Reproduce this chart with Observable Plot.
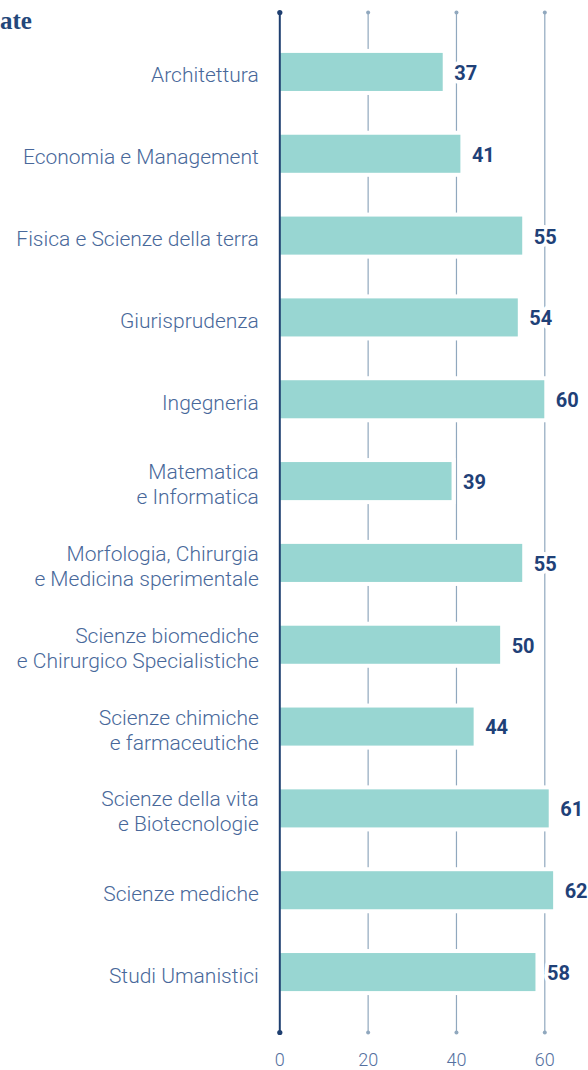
<!DOCTYPE html>
<html><head><meta charset="utf-8">
<script src="https://cdn.jsdelivr.net/npm/d3@7"></script>
<script src="https://cdn.jsdelivr.net/npm/@observablehq/plot@0.6"></script>
<style>
body{margin:0;background:#fff;}
#wrap{position:relative;width:588px;height:1070px;overflow:hidden;}
#title{position:absolute;left:0px;top:9px;font:bold 25px/24px "Liberation Serif",serif;color:#23477a;white-space:nowrap;}
#chart svg{display:block;}
</style></head><body>
<div id="wrap"><div id="title">ate</div><div id="chart"></div></div>
<script>
const categories = [
  "Architettura",
  "Economia e Management",
  "Fisica e Scienze della terra",
  "Giurisprudenza",
  "Ingegneria",
  "Matematica\ne Informatica",
  "Morfologia, Chirurgia\ne Medicina sperimentale",
  "Scienze biomediche\ne Chirurgico Specialistiche",
  "Scienze chimiche\ne farmaceutiche",
  "Scienze della vita\ne Biotecnologie",
  "Scienze mediche",
  "Studi Umanistici"
];
const values = [37, 41, 55, 54, 60, 39, 55, 50, 44, 61, 62, 58];
const ticks = [0, 20, 40, 60];

const data = categories.map((c, i) => ({category: c, value: values[i]}));
const gridTicks = ticks.filter(d => d !== 0);

const chart = Plot.plot({
  width: 588,
  height: 1070,
  marginLeft: 279.3,
  marginRight: 43.7,
  marginTop: 12,
  marginBottom: 38,
  style: {fontFamily: "Roboto", background: "transparent", overflow: "visible"},
  x: {domain: [0, 60], axis: null},
  y: {domain: categories, axis: null, paddingInner: 0.535, paddingOuter: 0.5, round: false},
  marks: [
    Plot.ruleX(gridTicks, {stroke: "#90a8be", strokeWidth: 1.2}),
    Plot.dot(gridTicks, {x: d => d, frameAnchor: "top", r: 2, fill: "#90a8be", stroke: "none"}),
    Plot.dot(gridTicks, {x: d => d, frameAnchor: "bottom", r: 2, fill: "#90a8be", stroke: "none"}),
    Plot.barX(data, {y: "category", x: "value", fill: "white", insetTop: -4, insetBottom: -4, insetRight: -4}),
    Plot.barX(data, {y: "category", x: "value", fill: "#98d6d2"}),
    Plot.ruleX([0], {stroke: "#1f3f70", strokeWidth: 2}),
    Plot.dot([0], {x: d => d, frameAnchor: "top", r: 2.6, fill: "#1f3f70", stroke: "none"}),
    Plot.dot([0], {x: d => d, frameAnchor: "bottom", r: 2.6, fill: "#1f3f70", stroke: "none"}),
    Plot.text(data, {
      y: "category", x: "value", text: d => String(d.value),
      dx: 11, dy: 1, textAnchor: "start", fontSize: 20, fontWeight: 700,
      fill: "#1f4178", stroke: "white", strokeWidth: 8
    }),
    Plot.text(data, {
      y: "category", text: "category", frameAnchor: "left", dx: -21, dy: 2,
      textAnchor: "end", fontSize: 21, fontWeight: 300, fill: "#48689a",
      lineHeight: 1.19, ariaLabel: "category"
    }),
    Plot.axisX(ticks, {
      tickSize: 0, tickPadding: 21, fontSize: 18, fontWeight: 300,
      fill: "#5470a0", label: null
    })
  ]
});

document.getElementById("chart").append(chart);

chart.querySelectorAll('g[aria-label="category"] text').forEach(t => {
  const spans = t.querySelectorAll("tspan");
  if (spans.length > 1) {
    const w = Math.max(...[...spans].map(s => s.getComputedTextLength()));
    const x0 = t.hasAttribute("x") ? parseFloat(t.getAttribute("x")) : 0;
    t.setAttribute("text-anchor", "start");
    spans.forEach(s => s.setAttribute("x", x0 - w));
    const tr = t.getAttribute("transform") || "";
    t.setAttribute("transform", (tr + " translate(0,2.5)").trim());
  }
});
</script>
</body></html>
